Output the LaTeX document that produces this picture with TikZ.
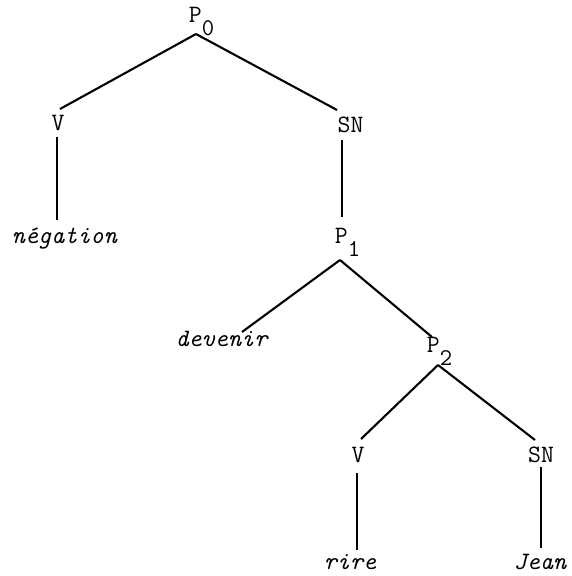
\documentclass[tikz,border=0pt]{standalone}
\begin{document}
\begin{tikzpicture}[x=1pt,y=-1pt,
  lab/.style={inner sep=0pt,anchor=base,font=\ttfamily\fontsize{25}{30}\selectfont},
  word/.style={lab,font=\ttfamily\itshape\fontsize{25}{30}\selectfont},
  edge/.style={line width=2.1pt}]
\newcommand{\lowsub}[1]{\raisebox{-13pt}{\fontsize{24}{28}\selectfont #1}}
\useasboundingbox (0,0) rectangle (571,576);
% labels
\node[lab] (p0) at (201.5,22) {P\lowsub{0}};
\node[lab] (v1) at (58,130) {V};
\node[lab] (sn1) at (350.5,132) {SN};
\node[word] (neg) at (64.5,243) {négation};
\node[lab] (p1) at (347.6,243) {P\lowsub{1}};
\node[word] (dev) at (221.5,346) {devenir};
\node[lab] (p2) at (439.6,352) {P\lowsub{2}};
\node[lab] (v2) at (358,462) {V};
\node[lab] (sn2) at (541,462) {SN};
\node[word] (rire) at (350,569) {rire};
\node[word] (jean) at (540,569) {Jean};
% connector end points
\coordinate (p0b) at (196,34);
\coordinate (v1t) at (60,109);
\coordinate (sn1t) at (337,110);
\coordinate (v1b) at (57,137);
\coordinate (negt) at (57,220);
\coordinate (sn1b) at (342,140);
\coordinate (p1t) at (342,217);
\coordinate (p1b) at (340,260);
\coordinate (devt) at (242,332);
\coordinate (p2t) at (432,337);
\coordinate (p2b) at (438,365);
\coordinate (v2t) at (361,439);
\coordinate (sn2t) at (535,440);
\coordinate (v2b) at (357,473);
\coordinate (riret) at (357,550);
\coordinate (sn2b) at (541,467);
\coordinate (jeant) at (541,548);
% connectors
\draw[edge] (p0b) -- (v1t);
\draw[edge] (p0b) -- (sn1t);
\draw[edge] (v1b) -- (negt);
\draw[edge] (sn1b) -- (p1t);
\draw[edge] (p1b) -- (devt);
\draw[edge] (p1b) -- (p2t);
\draw[edge] (p2b) -- (v2t);
\draw[edge] (p2b) -- (sn2t);
\draw[edge] (v2b) -- (riret);
\draw[edge] (sn2b) -- (jeant);
\end{tikzpicture}
\end{document}
